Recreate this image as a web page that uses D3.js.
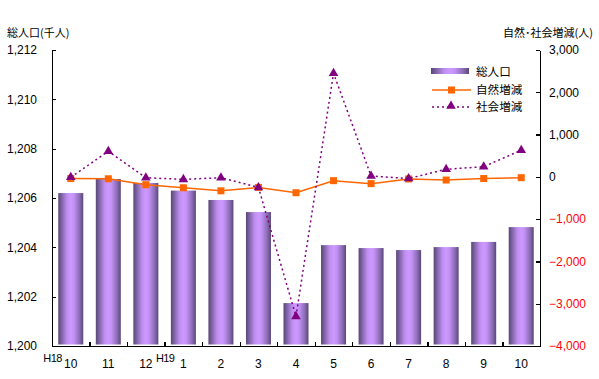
<!DOCTYPE html>
<html><head><meta charset="utf-8">
<script src="https://cdn.jsdelivr.net/npm/d3@7/dist/d3.min.js"></script>
<style>
body{margin:0;background:#fff;}
svg{display:block;}
text{font-family:"Liberation Sans",Arial,sans-serif;}
.jp{font-family:"Noto Sans CJK JP",sans-serif;}
</style></head><body>
<svg id="c" width="599" height="379"></svg>
<script>
const months = ["10","11","12","1","2","3","4","5","6","7","8","9","10"];
const eraLabels = ["H18","H19"];
const eraIndex = [0,3];
const population = [1206.2,1206.77,1206.61,1206.3,1205.92,1205.43,1201.74,1204.09,1203.97,1203.89,1204.01,1204.22,1204.82];
const natural = [-40,-45,-185,-258,-330,-250,-375,-90,-160,-50,-75,-40,-20];
const social = [-10,605,-20,-60,-20,-250,-3300,2450,20,-40,180,240,630];
const leftTicks = [1200,1202,1204,1206,1208,1210,1212];
const rightTicks = [-4000,-3000,-2000,-1000,0,1000,2000,3000];
const legendNames = ["総人口","自然増減","社会増減"];
const leftTitle = "総人口(千人)";
const rightTitle = "自然･社会増減(人)";

const L=52,R=540,T=50,B=346;
const svg=d3.select("#c");
const defs=svg.append("defs");
const g=defs.append("linearGradient").attr("id","barg").attr("x1","0").attr("x2","1").attr("y1","0").attr("y2","0");
[[0,"#584675"],[0.12,"#7a60a0"],[0.35,"#c08ef0"],[0.5,"#cc99ff"],[0.62,"#c492f6"],[0.85,"#8a6cb4"],[1,"#5a4878"]]
 .forEach(([o,c])=>g.append("stop").attr("offset",o).attr("stop-color",c));

const idx=d3.range(months.length);
const xb=d3.scaleBand().domain(idx).range([L,R]).padding(0);
const xl=d3.scaleLinear().domain([0,months.length]).range([L,R]);
const yL=d3.scaleLinear().domain([1200,1212]).range([B,T]);
const yR=d3.scaleLinear().domain([-4000,3000]).range([B,T]);
const bw=25;

// bars
svg.append("g").selectAll("rect").data(population).join("rect")
 .attr("x",(d,i)=>xb(i)+xb.bandwidth()/2-bw/2)
 .attr("y",d=>yL(d))
 .attr("width",bw)
 .attr("height",d=>yL(1200)-yL(d)-1.5)
 .attr("fill","url(#barg)");

// axes
const fmt=d3.format(",");
const ax=svg.append("g").attr("transform",`translate(${L},0)`)
 .call(d3.axisLeft(yL).tickValues(leftTicks).tickFormat(fmt).tickSizeInner(-4).tickSizeOuter(0).tickPadding(15));
const axr=svg.append("g").attr("transform",`translate(${R},0)`)
 .call(d3.axisRight(yR).tickValues(rightTicks).tickFormat(fmt).tickSizeInner(-4).tickSizeOuter(0).tickPadding(9));
const axb=svg.append("g").attr("transform",`translate(0,${B})`)
 .call(d3.axisBottom(xl).tickValues(d3.range(months.length+1)).tickFormat("").tickSizeInner(-4).tickSizeOuter(0));
[ax,axr,axb].forEach(a=>{
 a.selectAll("path,line").attr("stroke","#000").attr("stroke-width",1.3).attr("shape-rendering","crispEdges");
 a.selectAll("text").attr("font-size",12).attr("fill","#000").attr("font-family","'Liberation Sans',Arial,sans-serif");
});
axr.selectAll("text").attr("fill",d=>d<0?"#ff0000":"#000");

// x labels
svg.append("g").selectAll("text").data(months).join("text")
 .attr("x",(d,i)=>xb(i)+xb.bandwidth()/2).attr("y",368)
 .attr("text-anchor","middle").attr("font-size",12).text(d=>d);
svg.append("g").selectAll("text").data(eraLabels).join("text")
 .attr("x",(d,i)=>xl(eraIndex[i])+0.5).attr("y",362)
 .attr("text-anchor","middle").attr("font-size",11).attr("letter-spacing",-0.6).text(d=>d);

// titles
svg.append("text").attr("class","jp").attr("x",7).attr("y",37).attr("font-size",11).text(leftTitle);
svg.append("text").attr("class","jp").attr("x",593).attr("y",37).attr("text-anchor","end").attr("font-size",11).text(rightTitle);

const cx=i=>xb(i)+xb.bandwidth()/2;
// natural line
svg.append("path").datum(natural)
 .attr("d",d3.line().x((d,i)=>cx(i)).y(d=>yR(d)))
 .attr("fill","none").attr("stroke","#ff6600").attr("stroke-width",1.5);
svg.append("g").selectAll("rect").data(natural).join("rect")
 .attr("x",(d,i)=>cx(i)-3.5).attr("y",d=>yR(d)-3.5).attr("width",7).attr("height",7).attr("fill","#ff6600");

// social line
const tri=d3.symbol().type(d3.symbolTriangle).size(40);
svg.append("path").datum(social)
 .attr("d",d3.line().x((d,i)=>cx(i)).y(d=>yR(d)))
 .attr("fill","none").attr("stroke","#800080").attr("stroke-width",1.5).attr("stroke-dasharray","2,3");
svg.append("g").selectAll("path").data(social).join("path")
 .attr("d",tri).attr("transform",(d,i)=>`translate(${cx(i)},${yR(d)})`).attr("fill","#800080");

// legend
const lg=svg.append("g");
lg.append("rect").attr("x",431).attr("y",68).attr("width",38).attr("height",6).attr("fill","url(#barg)");
lg.append("line").attr("x1",432).attr("x2",471).attr("y1",90).attr("y2",90).attr("stroke","#ff6600").attr("stroke-width",1.5);
lg.append("rect").attr("x",448).attr("y",86.5).attr("width",7).attr("height",7).attr("fill","#ff6600");
lg.append("line").attr("x1",432).attr("x2",471).attr("y1",107).attr("y2",107).attr("stroke","#800080").attr("stroke-width",1.5).attr("stroke-dasharray","2,3");
lg.append("path").attr("d",tri).attr("transform","translate(451,106)").attr("fill","#800080");
lg.selectAll("text").data(legendNames).join("text").attr("class","jp")
 .attr("x",476).attr("y",(d,i)=>[76,94,111][i]).attr("font-size",11.6).text(d=>d);
</script></body></html>
